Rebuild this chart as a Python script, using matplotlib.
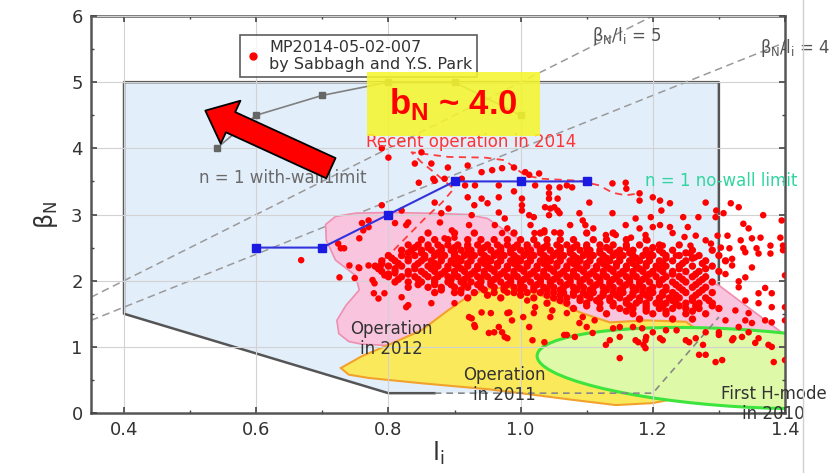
import numpy as np
import matplotlib
matplotlib.use("Agg")
import matplotlib.pyplot as plt
import matplotlib.transforms as mtransforms
from matplotlib.patches import Polygon, Ellipse, Rectangle
from matplotlib.lines import Line2D

plt.rcParams['font.family'] = ['DejaVu Sans']
plt.rcParams['mathtext.fontset'] = 'custom'
plt.rcParams['mathtext.rm'] = 'DejaVu Sans'
plt.rcParams['mathtext.it'] = 'DejaVu Sans:italic'
plt.rcParams['mathtext.bf'] = 'Liberation Sans:bold'

# ---- data ----
# operating window (light blue)
window_x = [0.4, 1.3, 1.3, 1.2, 0.8, 0.4]
window_y = [5.0, 5.0, 1.45, 0.3, 0.3, 1.5]
window_solid_x = [1.3, 1.3, 0.4, 0.4, 0.8, 0.87]
window_solid_y = [1.45, 5.0, 5.0, 1.5, 0.3, 0.3]
window_dash_x = [0.87, 1.2, 1.3]
window_dash_y = [0.3, 0.3, 1.45]

# beta_N / l_i = const lines
ratio5_x = [0.35, 1.2]
ratio5_y = [1.75, 6.0]
ratio4_x = [0.35, 1.4]
ratio4_y = [1.4, 5.6]

# n = 1 with-wall limit
wall_li = [0.54, 0.6, 0.7, 0.8, 0.9, 1.0]
wall_bn = [4.0, 4.5, 4.8, 5.0, 5.0, 4.5]
# n = 1 no-wall limit
nowall_li = [0.6, 0.7, 0.8, 0.9, 1.0, 1.1]
nowall_bn = [2.5, 2.5, 3.0, 3.5, 3.5, 3.5]

# operation 2012 region
op2012 = [(0.705, 2.85), (0.72, 2.97), (0.75, 3.02), (0.80, 3.03), (0.86, 3.02),
          (0.92, 3.0), (0.95, 2.94), (0.985, 2.70), (1.03, 2.45), (1.09, 2.25),
          (1.17, 2.15), (1.25, 2.10), (1.30, 1.93), (1.40, 1.18), (1.40, 1.0),
          (1.20, 1.0), (1.05, 1.2), (0.95, 1.5), (0.85, 1.1), (0.80, 1.02),
          (0.76, 1.04), (0.74, 1.08), (0.725, 1.20), (0.722, 1.40), (0.736, 1.63),
          (0.756, 1.86), (0.75, 2.08), (0.72, 2.31), (0.706, 2.61)]
# operation 2011 region
op2011 = [(0.728, 0.68), (0.76, 0.86), (0.80, 1.03), (0.85, 1.25), (0.89, 1.55),
          (0.92, 1.76), (0.95, 1.88), (0.99, 1.90), (1.02, 1.82), (1.06, 1.66),
          (1.09, 1.52), (1.135, 1.37), (1.19, 1.40), (1.25, 1.38), (1.29, 1.1),
          (1.28, 0.5), (1.25, 0.25), (1.20, 0.15), (1.144, 0.12), (1.078, 0.20),
          (1.0, 0.30), (0.95, 0.36), (0.85, 0.45), (0.77, 0.53), (0.74, 0.58)]
# first H-mode 2010 (tilted ellipse)
hmode_center = (1.33, 0.68)
hmode_width = 0.61
hmode_height = 1.17
hmode_slope = -0.6

# recent operation 2014 outline
recent_x = [0.78, 0.805, 0.855, 0.881, 0.899, 0.870, 0.850, 0.835, 0.891, 0.946,
            0.976, 0.992, 1.007, 1.033, 1.089, 1.119, 1.139, 1.159, 1.18]
recent_y = [2.2, 2.43, 2.94, 3.18, 3.39, 3.63, 3.79, 3.94, 3.87, 3.86,
            3.82, 3.70, 3.59, 3.54, 3.51, 3.44, 3.33, 3.29, 3.32]

# MP2014-05-02-007 shots, scattered ones
shots_sparse = [
    (0.79, 4.00), (0.80, 3.86), (0.85, 3.94), (0.84, 3.77), (0.865, 3.77), (0.846, 3.48),
    (0.87, 3.51), (0.89, 3.71), (0.92, 3.74), (0.916, 3.44), (0.92, 3.26), (0.93, 3.14),
    (0.87, 3.18), (0.88, 3.02), (0.79, 3.14), (0.81, 2.87), (0.83, 2.88), (0.76, 2.87),
    (0.77, 2.81), (0.756, 2.64), (0.724, 2.56), (0.733, 2.49), (0.878, 2.88), (0.896, 2.76),
    (0.885, 2.64), (0.90, 2.65), (0.77, 2.91), (0.762, 2.76), (0.668, 2.31), (0.726, 2.05),
    (0.728, 2.49), (0.741, 2.23), (0.755, 2.20), (0.77, 2.23), (0.779, 1.96), (0.794, 1.81),
    (0.785, 1.73), (0.827, 1.60), (0.81, 2.11), (0.941, 3.64), (0.957, 3.67), (0.972, 3.70),
    (0.99, 3.71), (1.007, 3.64), (1.028, 3.62), (0.868, 3.54), (0.885, 3.54), (0.911, 3.54),
    (0.931, 3.44), (0.967, 3.44), (1.022, 3.44), (1.043, 3.41), (1.059, 3.41), (1.078, 3.41),
    (0.941, 3.24), (0.967, 3.26), (1.002, 3.24), (1.043, 3.24), (1.056, 3.24), (1.104, 3.18),
    (1.139, 3.47), (1.159, 3.48), (1.18, 3.32), (1.20, 3.26), (1.002, 3.14), (1.037, 3.11),
    (1.051, 3.11), (1.043, 2.99), (1.059, 3.02), (1.089, 3.02), (1.139, 3.02), (1.174, 2.94),
    (1.197, 2.96), (0.926, 2.99), (0.967, 3.03), (0.891, 3.09), (1.013, 2.99), (1.015, 2.84),
    (1.075, 2.84), (1.098, 2.84), (1.159, 2.84), (1.18, 2.79), (1.211, 2.84), (0.922, 2.84),
    (0.961, 2.84), (0.98, 2.79), (0.972, 2.72), (1.021, 2.72), (1.036, 2.73), (1.051, 2.73),
    (1.129, 2.69), (1.144, 2.69), (1.167, 2.65), (1.189, 2.69), (0.827, 2.84), (0.82, 3.06),
    (1.013, 3.60), (0.99, 3.35), (1.043, 3.32), (1.07, 3.44), (1.16, 3.39), (1.18, 3.21),
    (1.002, 3.06), (1.045, 3.09), (1.056, 3.06), (0.976, 2.94), (1.02, 2.96), (1.094, 2.91),
    (0.95, 3.17), (1.036, 2.76), (1.11, 2.79),
    # right of the window
    (1.211, 3.21), (1.226, 3.17), (1.28, 3.18), (1.213, 3.06), (1.246, 2.96), (1.269, 2.96),
    (1.295, 2.96), (1.296, 3.06), (1.307, 3.02), (1.318, 3.17), (1.33, 3.11), (1.337, 2.86),
    (1.345, 2.79), (1.367, 2.99), (1.395, 2.91), (1.20, 2.81), (1.226, 2.81), (1.253, 2.81),
    (1.23, 2.72), (1.248, 2.66), (1.265, 2.68), (1.28, 2.61), (1.298, 2.68), (1.313, 2.68),
    (1.333, 2.61), (1.35, 2.64), (1.363, 2.65), (1.378, 2.53), (1.393, 2.65), (1.397, 2.53),
    (1.192, 2.61), (1.215, 2.53), (1.257, 2.53), (1.288, 2.56), (1.303, 2.50), (1.316, 2.49),
    (1.337, 2.49), (1.357, 2.49), (1.197, 2.41), (1.235, 2.38), (1.257, 2.41), (1.264, 2.35),
    (1.34, 2.43), (1.36, 2.41), (1.378, 2.41), (1.397, 2.46), (1.32, 2.23), (1.34, 2.05),
    (1.35, 2.20), (1.33, 1.90), (1.36, 1.81), (1.37, 1.89), (1.38, 1.81), (1.36, 1.66),
    (1.34, 1.70), (1.325, 1.55), (1.345, 1.51), (1.38, 1.60), (1.40, 1.60), (1.40, 2.08),
    (1.40, 1.40), (1.37, 1.40), (1.35, 1.36), (1.34, 1.40), (1.31, 1.40), (1.345, 1.22),
    (1.36, 1.13), (1.335, 1.15), (1.32, 1.10), (1.375, 1.03), (1.305, 0.80), (1.28, 0.88),
    (1.276, 1.03), (1.265, 1.13), (1.255, 1.07), (1.30, 1.22), (1.33, 1.30), (1.40, 0.80),
    (1.215, 1.10), (1.189, 1.10), (1.189, 0.98), (1.19, 1.15), (1.22, 1.25), (1.236, 1.25),
    (1.28, 1.22), (1.32, 2.33), (1.31, 2.10), (1.33, 1.99),
    # inside 2011 / 2010 regions
    (0.98, 1.82), (1.01, 1.70), (1.022, 1.60), (1.048, 1.55), (0.98, 1.51), (0.987, 1.40),
    (0.955, 1.51), (0.967, 1.30), (0.972, 1.22), (0.98, 1.13), (1.036, 1.07), (1.066, 1.18),
    (1.082, 1.15), (1.089, 1.36), (1.109, 1.21), (1.135, 1.10), (1.15, 1.15), (1.178, 1.07),
    (1.15, 0.83), (1.10, 1.30), (1.112, 1.40), (1.14, 1.28), (1.15, 1.30), (1.17, 1.30),
    (1.013, 1.30), (1.004, 1.45), (1.02, 1.51), (1.045, 1.45), (1.07, 1.51), (1.094, 1.45),
    (0.926, 1.43), (0.931, 1.30), (0.941, 1.52), (0.952, 1.21), (0.96, 1.22), (0.976, 1.15),
    (0.983, 1.52), (1.018, 1.10), (1.07, 1.18), (1.129, 1.03), (1.174, 1.10), (1.186, 1.03),
    (1.184, 1.28), (1.20, 1.22), (1.211, 1.13), (1.25, 1.10), (1.27, 0.88), (1.295, 0.77),
    (1.30, 1.18), (1.322, 1.13), (1.355, 1.06), (1.38, 1.00), (1.383, 0.77), (1.38, 1.37),
    # left edge of the cloud
    (0.749, 2.04), (0.756, 2.19), (0.776, 2.01), (0.778, 1.81), (0.789, 2.23), (0.794, 2.08),
    (0.82, 1.75), (0.83, 1.63), (0.865, 1.66), (0.90, 1.66), (0.922, 1.45), (0.93, 1.33),
    (0.91, 1.81),
]

# dense core of the cloud, one row per beta_N level
shots_dense_rows = {
    2.72: [0.86, 0.90, 0.93, 0.99, 1.03, 1.06, 1.10, 1.14],
    2.62: [0.85, 0.87, 0.89, 0.92, 0.94, 0.96, 0.98, 1.00, 1.02, 1.04, 1.06, 1.08, 1.11,
           1.13, 1.16, 1.19],
    2.54: [0.83, 0.845, 0.86, 0.875, 0.89, 0.905, 0.92, 0.935, 0.95, 0.965, 0.98, 0.995,
           1.01, 1.025, 1.04, 1.055, 1.07, 1.085, 1.10, 1.12, 1.14, 1.16, 1.18, 1.21, 1.24],
    2.50: [0.84, 0.86, 0.88, 0.90, 0.92, 0.945, 0.97, 0.99, 1.01, 1.035, 1.06, 1.08,
           1.10, 1.13, 1.16, 1.20],
    2.46: [0.82, 0.835, 0.85, 0.865, 0.88, 0.895, 0.91, 0.925, 0.94, 0.955, 0.97, 0.985,
           1.00, 1.015, 1.03, 1.045, 1.06, 1.075, 1.09, 1.105, 1.12, 1.135, 1.15, 1.17,
           1.19, 1.21, 1.23, 1.26, 1.29],
    2.42: [0.83, 0.85, 0.875, 0.90, 0.92, 0.94, 0.965, 0.985, 1.01, 1.03, 1.055, 1.075,
           1.10, 1.12, 1.145, 1.165, 1.19, 1.215, 1.25],
    2.38: [0.80, 0.82, 0.84, 0.855, 0.87, 0.885, 0.90, 0.915, 0.93, 0.945, 0.96, 0.975,
           0.99, 1.005, 1.02, 1.035, 1.05, 1.065, 1.08, 1.095, 1.11, 1.125, 1.14, 1.155,
           1.17, 1.185, 1.20, 1.22, 1.24, 1.27, 1.30],
    2.34: [0.805, 0.83, 0.855, 0.88, 0.905, 0.925, 0.95, 0.97, 0.995, 1.015, 1.04, 1.06,
           1.085, 1.105, 1.13, 1.15, 1.175, 1.195, 1.22, 1.26],
    2.30: [0.79, 0.81, 0.83, 0.85, 0.865, 0.88, 0.895, 0.91, 0.925, 0.94, 0.955, 0.97,
           0.985, 1.00, 1.015, 1.03, 1.045, 1.06, 1.075, 1.09, 1.105, 1.12, 1.135, 1.15,
           1.165, 1.18, 1.195, 1.21, 1.23, 1.25, 1.28, 1.31],
    2.26: [0.79, 0.815, 0.845, 0.87, 0.90, 0.92, 0.945, 0.965, 0.99, 1.01, 1.035, 1.055,
           1.08, 1.10, 1.125, 1.145, 1.17, 1.19, 1.215, 1.245, 1.275],
    2.22: [0.78, 0.80, 0.82, 0.84, 0.86, 0.875, 0.89, 0.905, 0.92, 0.935, 0.95, 0.965,
           0.98, 0.995, 1.01, 1.025, 1.04, 1.055, 1.07, 1.085, 1.10, 1.115, 1.13, 1.145,
           1.16, 1.175, 1.19, 1.205, 1.22, 1.24, 1.26, 1.29],
    2.18: [0.785, 0.81, 0.84, 0.865, 0.89, 0.91, 0.935, 0.955, 0.98, 1.0, 1.025, 1.045,
           1.07, 1.09, 1.115, 1.135, 1.16, 1.18, 1.21, 1.24, 1.28],
    2.14: [0.79, 0.81, 0.83, 0.85, 0.87, 0.885, 0.90, 0.915, 0.93, 0.945, 0.96, 0.975,
           0.99, 1.005, 1.02, 1.035, 1.05, 1.065, 1.08, 1.095, 1.11, 1.125, 1.14, 1.155,
           1.17, 1.185, 1.20, 1.215, 1.23, 1.25, 1.27, 1.30],
    2.10: [0.80, 0.83, 0.855, 0.88, 0.90, 0.925, 0.945, 0.97, 0.99, 1.015, 1.035, 1.06,
           1.08, 1.105, 1.125, 1.15, 1.17, 1.195, 1.23, 1.265],
    2.06: [0.80, 0.82, 0.84, 0.86, 0.875, 0.89, 0.905, 0.92, 0.935, 0.95, 0.965, 0.98,
           0.995, 1.01, 1.025, 1.04, 1.055, 1.07, 1.085, 1.10, 1.115, 1.13, 1.145, 1.16,
           1.175, 1.19, 1.205, 1.22, 1.24, 1.26, 1.28],
    2.02: [0.815, 0.845, 0.87, 0.895, 0.915, 0.94, 0.96, 0.985, 1.005, 1.03, 1.05, 1.075,
           1.095, 1.12, 1.14, 1.165, 1.185, 1.215, 1.245, 1.275],
    1.98: [0.81, 0.83, 0.85, 0.87, 0.89, 0.91, 0.925, 0.94, 0.955, 0.97, 0.985, 1.00,
           1.015, 1.03, 1.045, 1.06, 1.075, 1.09, 1.105, 1.12, 1.135, 1.15, 1.165, 1.18,
           1.195, 1.21, 1.23, 1.25, 1.27, 1.29],
    1.94: [0.845, 0.87, 0.895, 0.915, 0.935, 0.955, 0.98, 1.0, 1.025, 1.045, 1.07, 1.09,
           1.115, 1.135, 1.16, 1.18, 1.21, 1.235, 1.265],
    1.90: [0.83, 0.86, 0.88, 0.90, 0.92, 0.94, 0.96, 0.975, 0.99, 1.005, 1.02, 1.035,
           1.05, 1.065, 1.08, 1.095, 1.11, 1.125, 1.14, 1.155, 1.17, 1.185, 1.20, 1.22,
           1.24, 1.26, 1.28],
    1.86: [0.88, 0.91, 0.945, 0.975, 1.0, 1.02, 1.04, 1.06, 1.085, 1.105, 1.13, 1.15,
           1.175, 1.195, 1.22, 1.245, 1.275],
    1.82: [0.87, 0.90, 0.93, 0.96, 0.99, 1.01, 1.03, 1.05, 1.065, 1.08, 1.095, 1.11,
           1.125, 1.14, 1.155, 1.17, 1.185, 1.20, 1.215, 1.23, 1.25, 1.27, 1.29],
    1.78: [0.95, 1.0, 1.04, 1.06, 1.08, 1.10, 1.125, 1.145, 1.17, 1.19, 1.215, 1.235, 1.265],
    1.74: [0.92, 0.97, 1.02, 1.05, 1.07, 1.09, 1.105, 1.12, 1.135, 1.15, 1.165, 1.18,
           1.195, 1.21, 1.225, 1.24, 1.26, 1.28],
    1.70: [1.06, 1.09, 1.115, 1.135, 1.16, 1.18, 1.21, 1.23, 1.26, 1.285],
    1.66: [1.04, 1.07, 1.10, 1.12, 1.14, 1.16, 1.175, 1.19, 1.205, 1.22, 1.235, 1.25,
           1.27, 1.29],
    1.62: [1.10, 1.14, 1.165, 1.19, 1.215, 1.24, 1.265, 1.29],
    1.58: [1.08, 1.12, 1.15, 1.17, 1.19, 1.21, 1.23, 1.25, 1.27, 1.30],
    1.54: [1.16, 1.19, 1.22, 1.26],
    1.50: [1.13, 1.17, 1.20, 1.22, 1.25, 1.28],
    1.42: [1.18, 1.23, 1.26],
}

x_ticks = [0.4, 0.6, 0.8, 1.0, 1.2, 1.4]
x_tick_labels = ['0.4', '0.6', '0.8', '1.0', '1.2', '1.4']
y_ticks = [0, 1, 2, 3, 4, 5, 6]

# ---- figure ----
fig = plt.figure(figsize=(8.4, 4.73), dpi=100)
ax = fig.add_axes([0.1083, 0.1268, 0.8262, 0.8394])
ax.set_xlim(0.35, 1.4)
ax.set_ylim(0, 6)

ax.add_patch(Polygon(list(zip(window_x, window_y)), closed=True,
                     facecolor='#e3eefb', edgecolor='none', zorder=0.5))
ax.plot(window_solid_x, window_solid_y, color='#555555', lw=1.8, zorder=1)

ax.plot(ratio5_x, ratio5_y, color='#9a9a9a', lw=1.1, ls=(0, (5, 3)), zorder=1.1)
ax.plot(ratio4_x, ratio4_y, color='#9a9a9a', lw=1.1, ls=(0, (5, 3)), zorder=1.1)

ax.add_patch(Polygon(op2012, closed=True, facecolor='#f9c4de',
                     edgecolor='#ee8fb0', lw=1.2, zorder=1.2))
ax.add_patch(Polygon(op2011, closed=True, facecolor='#fbe95c',
                     edgecolor='#f2a22c', lw=1.5, zorder=1.4))
shear = mtransforms.Affine2D().skew(0, np.arctan(hmode_slope)).translate(*hmode_center)
ax.add_patch(Ellipse((0, 0), hmode_width, hmode_height, facecolor='#def9a8',
                     edgecolor='#3de43d', lw=2.2, zorder=1.6,
                     transform=shear + ax.transData))

ax.plot(window_dash_x, window_dash_y, color='#888888', lw=1.2, ls=(0, (4, 3)), zorder=2.6)
ax.plot(recent_x, recent_y, color='#ff3b3b', lw=1.3, ls=(0, (4, 3)), zorder=2.7)

dense_x = [x for y, row in shots_dense_rows.items() for x in row]
dense_y = [y for y, row in shots_dense_rows.items() for x in row]
sparse_x = [p[0] for p in shots_sparse]
sparse_y = [p[1] for p in shots_sparse]
ax.scatter(dense_x, dense_y, s=28, color='#ff0000', edgecolors='none', zorder=3)
ax.scatter(sparse_x, sparse_y, s=22, color='#ff0000', edgecolors='none', zorder=3)

ax.plot(wall_li, wall_bn, color='#808080', lw=1.2, marker='s', ms=4,
        mfc='#666666', mec='#666666', zorder=4)
ax.plot(nowall_li, nowall_bn, color='#3333dd', lw=1.5, marker='s', ms=6,
        mfc='#1a1ae0', mec='#1a1ae0', zorder=4)

# annotations
txt = dict(fontsize=12, zorder=5)
ax.text(1.160, 5.70, 'β$_\\mathrm{N}$/l$_\\mathrm{i}$ = 5', color='#555555',
        ha='center', va='center', **txt)
ax.text(1.416, 5.52, 'β$_\\mathrm{N}$/l$_\\mathrm{i}$ = 4', color='#555555',
        ha='center', va='center', clip_on=False, **txt)
ax.text(0.640, 3.55, 'n = 1 with-wall1imit', color='#6a6a6a', ha='center', va='center', **txt)
ax.text(1.303, 3.50, 'n = 1 no-wall limit', color='#30d6a0', ha='center', va='center',
        clip_on=False, **txt)
ax.text(0.925, 4.09, 'Recent operation in 2014', color='#ff3333', ha='center', va='center', **txt)
ax.text(0.805, 1.12, 'Operation\nin 2012', color='#333333', ha='center', va='center',
        linespacing=1.15, **txt)
ax.text(0.976, 0.42, 'Operation\nin 2011', color='#333333', ha='center', va='center',
        linespacing=1.15, **txt)
ax.text(1.383, 0.14, 'First H-mode\nin 2010', color='#333333', ha='center', va='center',
        linespacing=1.15, clip_on=False, **txt)

leg = ax.legend(handles=[Line2D([], [], marker='o', ls='', color='#ff0000', ms=5)],
                labels=['MP2014-05-02-007\nby Sabbagh and Y.S. Park'],
                loc='upper left', bbox_to_anchor=(0.215, 0.952), fontsize=11.5,
                frameon=True, fancybox=False, borderpad=0.3, handlelength=1.0,
                handletextpad=0.5, borderaxespad=0, labelcolor='#333333')
leg.get_frame().set_edgecolor('#333333')
leg.get_frame().set_linewidth(1.2)
leg.set_zorder(5)

# highlight box
ax.add_patch(Rectangle((0.398, 0.698), 0.249, 0.161, transform=ax.transAxes,
                       facecolor='#f5f52e', edgecolor='none', alpha=0.88, zorder=6))
ax.text(0.5225, 0.778, 'b$_\\mathbf{N}$ ~ 4.0', transform=ax.transAxes, color='#ff0000',
        fontsize=25, fontweight='bold', family='Liberation Sans',
        ha='center', va='center', zorder=6.5)

ax.annotate('', xy=(0.523, 4.57), xytext=(0.713, 3.70),
            arrowprops=dict(arrowstyle='simple,head_length=20,head_width=34,tail_width=16',
                            mutation_scale=1, fc='#ff0000', ec='black', lw=1.3,
                            shrinkA=0, shrinkB=0),
            zorder=7)

# axes styling
ax.set_xticks(x_ticks)
ax.set_xticklabels(x_tick_labels)
ax.set_yticks(y_ticks)
ax.set_xticks(np.arange(0.4, 1.41, 0.1), minor=True)
ax.set_yticks(np.arange(0, 6.01, 0.5), minor=True)
ax.tick_params(which='both', direction='in', top=True, right=True, color='#444444')
ax.tick_params(which='major', length=4, width=1.2, labelsize=13, labelcolor='#333333', pad=6)
ax.tick_params(which='minor', length=2.5, width=1)
ax.grid(True, which='major', color='#d2d2d2', lw=0.8)
ax.set_axisbelow(False)
for sp in ax.spines.values():
    sp.set_color('#555555')
    sp.set_linewidth(1.8)

ax.set_xlabel('l$_\\mathrm{i}$', fontsize=18, color='#333333', labelpad=0)
ax.set_ylabel('β$_\\mathrm{N}$', fontsize=17, color='#333333', labelpad=8)

# slide edge on the right
fig.add_artist(Line2D([0.956, 0.956], [0, 1], transform=fig.transFigure,
                      color='#d0d0d0', lw=1.0))

fig.savefig('out.png', dpi=100)
